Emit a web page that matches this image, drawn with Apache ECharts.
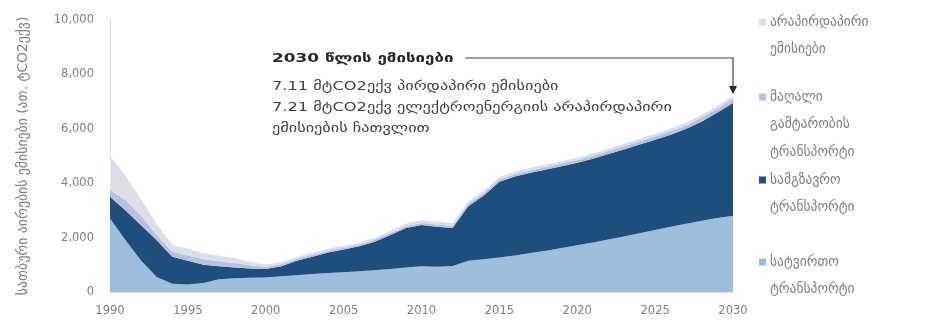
<!DOCTYPE html>
<html>
<head>
<meta charset="utf-8">
<script src="https://cdn.jsdelivr.net/npm/echarts@6/dist/echarts.min.js"></script>
<style>
html,body{margin:0;padding:0;background:#fff;}
#c{width:930px;height:324px;}
</style>
</head>
<body>
<div id="c"></div>
<script>
const years = ['1990','1991','1992','1993','1994','1995','1996','1997','1998','1999','2000','2001','2002','2003','2004','2005','2006','2007','2008','2009','2010','2011','2012','2013','2014','2015','2016','2017','2018','2019','2020','2021','2022','2023','2024','2025','2026','2027','2028','2029','2030'];

// Freight transport (bottom layer)
const freight = [2700,1900,1150,550,300,280,330,470,510,520,530,580,620,660,700,730,760,800,850,900,950,930,960,1150,1200,1270,1340,1430,1520,1620,1720,1820,1930,2040,2160,2280,2400,2510,2620,2720,2800];
// Passenger transport
const passenger = [800,1100,1300,1350,1000,870,670,480,390,340,320,370,530,640,750,830,920,1050,1250,1450,1510,1470,1390,2000,2350,2780,2910,2950,2980,3000,3030,3080,3140,3200,3260,3320,3380,3490,3650,3880,4150];
// High-capacity transport
const highCap = [250,380,350,200,180,190,200,180,170,120,80,70,70,70,70,70,70,70,70,70,80,80,80,90,90,90,90,95,95,100,100,105,110,115,120,125,130,135,145,150,160];
// Indirect emissions
const indirect = [1250,900,600,400,250,250,220,200,180,120,80,70,70,70,70,70,70,75,80,90,100,100,95,90,90,90,90,90,90,90,90,90,90,95,95,95,95,95,100,100,100];

const xTicks = ['1990','1995','2000','2005','2010','2015','2020','2025','2030'];
const yTicks = [0,2000,4000,6000,8000,10000];

const names = ['არაპირდაპირი ემისიები','მაღალი გამტარობის ტრანსპორტი','სამგზავრო ტრანსპორტი','სატვირთო ტრანსპორტი'];
const legendLines = [['არაპირდაპირი','ემისიები'],['მაღალი','გამტარობის','ტრანსპორტი'],['სამგზავრო','ტრანსპორტი'],['სატვირთო','ტრანსპორტი']];
const colors = ['#dedee6','#b7c2df','#1f4e7d','#9cbfe0'];

const annoTitle = '2030 წლის ემისიები';
const annoLines = ['7.11 მტCO2ექვ პირდაპირი ემისიები','7.21 მტCO2ექვ ელექტროენერგიის არაპირდაპირი','ემისიების ჩათვლით'];

const FONT = 'DejaVu Sans';
const chart = echarts.init(document.getElementById('c'));

const seriesData = [freight, passenger, highCap, indirect];
const seriesIdx = [3,2,1,0];
const series = seriesData.map((d,k)=>({
  name: names[seriesIdx[k]],
  type: 'line',
  stack: 'total',
  data: d,
  showSymbol: false,
  symbol: 'none',
  lineStyle: {width: 0},
  areaStyle: {color: colors[seriesIdx[k]], opacity: 1},
  itemStyle: {color: colors[seriesIdx[k]]},
  z: 2
}));

const LH = 27.5;
const firstLineY = [22, 97, 180, 262];
const legends = legendLines.map((lines,i)=>{
  const n = lines.length;
  const pad = [];
  for (let j=0;j<n-1;j++) pad.push(' ');
  return {
    data: [names[i]],
    orient: 'vertical',
    left: 759,
    top: firstLineY[i] - (n-1)*LH - LH/2,
    padding: 0,
    icon: 'rect',
    itemWidth: 7,
    itemHeight: 7,
    itemGap: 0,
    selectedMode: false,
    formatter: () => pad.concat(lines).join('\n'),
    textStyle: {fontFamily: FONT, fontSize: 13.5, color: '#808080', lineHeight: LH, padding: [0,0,0,-1]}
  };
});

chart.setOption({
  animation: false,
  backgroundColor: '#ffffff',
  grid: {left: 110, right: 197, top: 20, bottom: 32},
  legend: legends,
  xAxis: {
    type: 'category', data: years, boundaryGap: false,
    axisLine: {show: true, lineStyle: {color: '#d9d9d9', width: 1}},
    axisTick: {show: false},
    splitLine: {show: false},
    axisLabel: {color: '#808080', fontFamily: FONT, fontSize: 11.5, margin: 13, interval: 0,
      formatter: v => xTicks.indexOf(v) >= 0 ? v : ''}
  },
  yAxis: {
    type: 'value', min: 0, max: 10000, interval: 2000,
    name: 'სათბური აირების ემისიები (ათ. ტCO2ექვ)',
    nameLocation: 'middle', nameGap: 80, nameRotate: 90,
    nameTextStyle: {color: '#808080', fontFamily: FONT, fontSize: 13.8},
    axisLine: {show: true, lineStyle: {color: '#d9d9d9', width: 1}},
    axisTick: {show: false},
    splitLine: {show: false},
    axisLabel: {color: '#808080', fontFamily: FONT, fontSize: 11.5, margin: 16,
      formatter: v => yTicks.indexOf(v) >= 0 ? v.toLocaleString('en-US') : ''}
  },
  series: series
});

// annotation
const lastIdx = years.length - 1;
const total2030 = freight[lastIdx] + passenger[lastIdx] + highCap[lastIdx] + indirect[lastIdx];
const tip = chart.convertToPixel({gridIndex: 0}, [lastIdx, total2030]);
const lineY = 58;
chart.setOption({
  graphic: [
    {type: 'text', x: 272, y: 52, scaleX: 1.3, style: {text: annoTitle, font: 'bold 13px "' + FONT + '"', fill: '#262626'}},
    {type: 'text', x: 272, y: 76, scaleX: 1.3, style: {text: annoLines.join('\n'), font: '12.5px "' + FONT + '"', fill: '#404040', lineHeight: 21}},
    {type: 'polyline', shape: {points: [[465, lineY], [tip[0], lineY], [tip[0], tip[1] - 10]]}, style: {stroke: '#404040', lineWidth: 1.2, fill: null}, z: 10},
    {type: 'polygon', shape: {points: [[tip[0]-4, tip[1]-10], [tip[0]+4, tip[1]-10], [tip[0], tip[1]-2]]}, style: {fill: '#262626'}, z: 10}
  ]
});
</script>
</body>
</html>
